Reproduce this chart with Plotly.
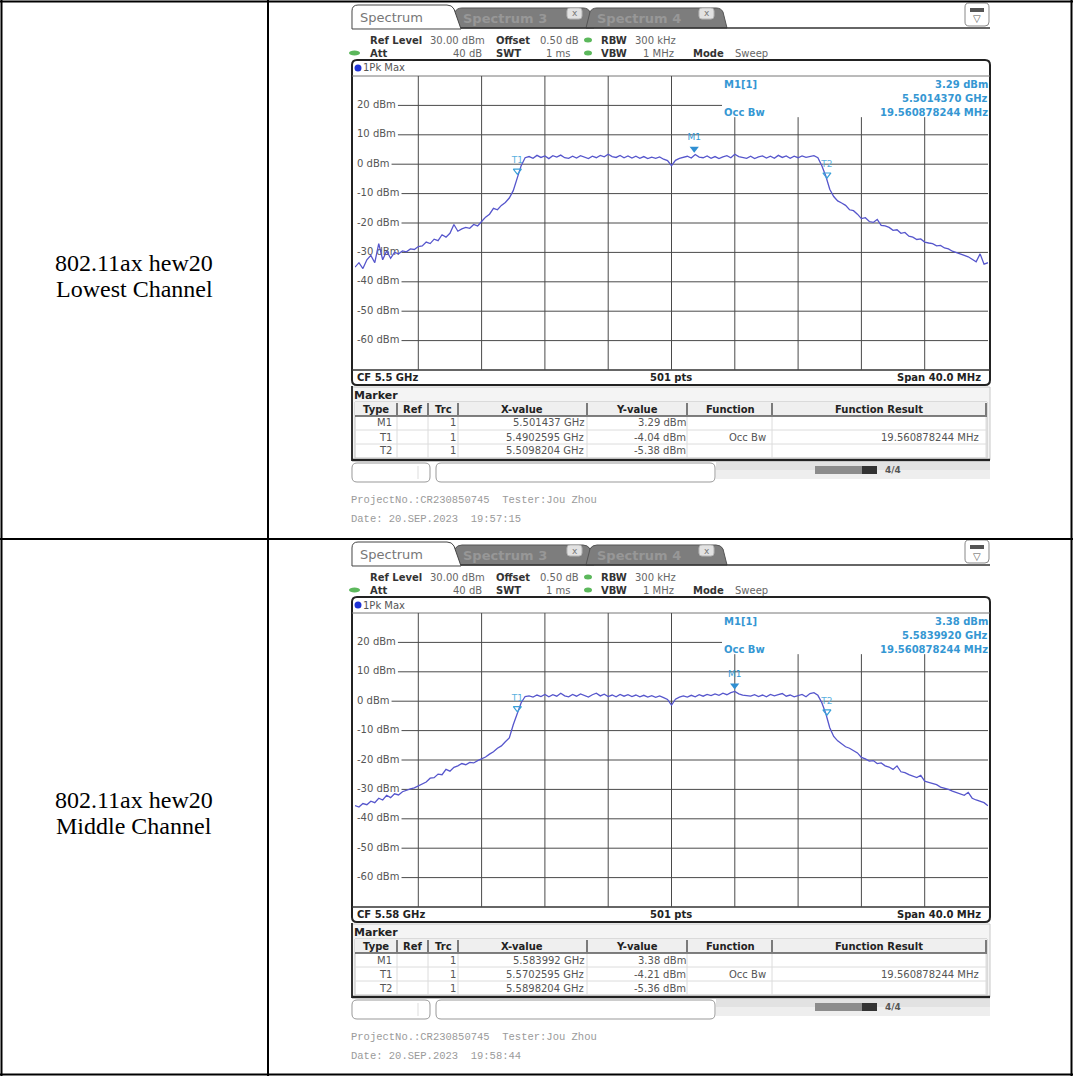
import plotly.graph_objects as go

W, H = 1073, 1076

# ---------------- data ----------------
span_ghz = 0.040
div_ghz = 0.004
step_ghz = 0.00025
centers_ghz = [5.50, 5.58]

low_trace_dbm = [
    -35.0, -33.5, -35.5, -32.5, -31.0, -33.5, -27.0, -32.5, -29.5, -32.0,
    -30.0, -30.5, -29.5, -29.8, -28.8, -29.0, -28.0, -27.8, -26.5, -27.0,
    -25.5, -26.0, -24.0, -24.8, -23.5, -20.5, -22.8, -22.0, -21.5, -21.8,
    -20.5, -21.0, -19.5, -18.0, -17.0, -15.0, -15.5, -14.0, -13.0, -11.5,
    -9.0, -4.5, -0.5, 2.2,
    2.6, 2.0, 3.0, 2.3, 2.8, 1.9, 2.9, 2.4, 3.1, 2.2,
    2.0, 2.7, 2.1, 2.9, 2.4, 1.9, 2.7, 2.2, 3.0, 2.5,
    3.4, 2.6, 2.3, 3.0, 2.2, 2.8, 2.1, 2.7, 2.0, 2.6,
    1.9, 2.4, 2.0, 2.5, 1.7, 1.2, -0.5, 1.3, 2.0, 2.4,
    2.7, 2.1, 3.3, 2.4, 2.2, 2.8, 2.0, 2.6, 1.9, 2.5,
    2.9, 2.2, 3.4, 2.6, 2.3, 2.0, 2.7, 1.9, 2.5, 2.8,
    2.1, 2.7, 2.0, 3.0, 2.3, 2.8, 2.0, 2.7, 2.2, 2.8,
    2.3, 2.6, 2.9, 2.2,
    -0.5, -4.0, -8.5, -11.0, -12.5, -13.2, -14.0, -15.5, -15.8, -17.0,
    -18.5, -18.2, -19.5, -19.8, -18.8, -20.8, -21.0, -21.5, -22.5, -22.3,
    -23.5, -23.2, -24.5, -24.8, -25.6, -25.4, -26.5, -26.8, -27.0, -27.8,
    -27.6, -28.5, -28.8, -29.6, -30.0, -30.4, -31.0, -31.5, -32.5, -33.2,
    -30.5, -34.0, -33.5,
]

mid_trace_dbm = [
    -35.5, -36.0, -34.8, -35.2, -34.0, -34.5, -33.0, -33.6, -32.0, -32.8,
    -31.5, -31.9, -30.8, -30.2, -29.8, -29.5, -28.8, -28.0, -27.5, -26.2,
    -26.0, -24.8, -25.0, -23.2, -23.8, -22.5, -22.0, -21.2, -21.6, -20.8,
    -21.0, -20.2, -19.6, -19.0, -18.0, -17.2, -16.0, -15.2, -13.8, -12.5,
    -8.0, -4.3, -0.5, 1.6,
    1.8, 1.4, 2.1, 1.6, 2.3, 1.5, 2.2, 1.7, 2.7, 1.8,
    1.5, 2.3, 1.7, 2.5, 1.9, 1.4, 2.2, 2.7, 1.8, 2.4,
    1.6, 2.1, 1.5, 2.3, 1.7, 2.2, 1.6, 2.1, 1.5, 2.0,
    1.4, 1.9, 1.3, 1.8, 1.2, 0.6, -1.3, 0.7, 1.4, 1.8,
    1.4, 2.0, 1.5, 2.2, 1.7, 2.3, 1.9, 2.5, 2.0, 2.7,
    2.2, 2.9, 3.3, 2.5, 2.1, 1.9, 1.7, 2.2, 1.6, 2.1,
    1.5, 2.3, 1.8, 2.2, 2.6, 1.7, 2.1, 1.5, 2.0, 2.3,
    1.5, 2.6, 2.9, 2.0,
    -0.5, -4.2, -9.0, -12.0, -13.5, -14.6, -15.5, -16.0, -16.8, -17.6,
    -19.1, -19.6, -20.4, -20.2, -21.2, -21.0, -22.0, -22.4, -23.2, -22.0,
    -24.0, -24.3, -25.0, -25.4, -26.0, -25.2, -27.2, -27.6, -28.0, -28.4,
    -29.2, -29.5, -30.0, -30.6, -31.0, -31.6, -32.0, -31.0, -33.0, -33.6,
    -34.0, -34.5, -35.6,
]

tick_values = [20, 10, 0, -10, -20, -30, -40, -50, -60]
tick_labels = ["20 dBm", "10 dBm", "0 dBm", "-10 dBm", "-20 dBm", "-30 dBm", "-40 dBm", "-50 dBm", "-60 dBm"]

row_titles = [["802.11ax hew20", "Lowest Channel"], ["802.11ax hew20", "Middle Channel"]]

marker_names = ["M1", "T1", "T2"]
marker_x = [[5.501437, 5.4902595, 5.5098204], [5.583992, 5.5702595, 5.5898204]]
marker_y = [[3.29, -4.04, -5.38], [3.38, -4.21, -5.36]]
marker_x_text = [["5.501437 GHz", "5.4902595 GHz", "5.5098204 GHz"],
                 ["5.583992 GHz", "5.5702595 GHz", "5.5898204 GHz"]]
m1_info = [["3.29 dBm", "5.5014370 GHz"], ["3.38 dBm", "5.5839920 GHz"]]
occ_bw_text = "19.560878244 MHz"
cf_labels = ["CF 5.5 GHz", "CF 5.58 GHz"]
dates = ["Date: 20.SEP.2023\u00a0\u00a019:57:15", "Date: 20.SEP.2023\u00a0\u00a019:58:44"]
project_line = "ProjectNo.:CR230850745\u00a0\u00a0Tester:Jou Zhou"

# ---------------- helpers ----------------
SANS = "DejaVu Sans"
MONO = "Liberation Mono"
SERIF = "Liberation Serif"
BLUE_INFO = "#3597d3"
TRACE = "#5656cc"

shapes = []
annots = []


def X(x):
    return x / W


def Y(y):
    return 1 - y / H


def pt(x, y):
    return f"{X(x):.5f},{Y(y):.5f}"


def line(x0, y0, x1, y1, color="#333", w=1):
    shapes.append(dict(type="line", xref="paper", yref="paper", x0=X(x0), y0=Y(y0), x1=X(x1), y1=Y(y1),
                       line=dict(color=color, width=w), layer="below"))


def rect(x0, y0, x1, y1, fill=None, lc=None, w=1):
    shapes.append(dict(type="rect", xref="paper", yref="paper", x0=X(x0), y0=Y(y0), x1=X(x1), y1=Y(y1),
                       fillcolor=fill or "rgba(0,0,0,0)", line=dict(color=lc or "rgba(0,0,0,0)", width=w if lc else 0),
                       layer="below"))


def ellipse(x0, y0, x1, y1, fill):
    shapes.append(dict(type="circle", xref="paper", yref="paper", x0=X(x0), y0=Y(y0), x1=X(x1), y1=Y(y1),
                       fillcolor=fill, line=dict(width=0), layer="below"))


def path(d, fill=None, lc="#444", w=1):
    shapes.append(dict(type="path", xref="paper", yref="paper", path=d,
                       fillcolor=fill or "rgba(0,0,0,0)", line=dict(color=lc, width=w), layer="below"))


def rrect(x0, y0, x1, y1, r, fill=None, lc="#444", w=1):
    d = (f"M{pt(x0 + r, y0)} L{pt(x1 - r, y0)} Q{pt(x1, y0)} {pt(x1, y0 + r)} "
         f"L{pt(x1, y1 - r)} Q{pt(x1, y1)} {pt(x1 - r, y1)} L{pt(x0 + r, y1)} "
         f"Q{pt(x0, y1)} {pt(x0, y1 - r)} L{pt(x0, y0 + r)} Q{pt(x0, y0)} {pt(x0 + r, y0)} Z")
    path(d, fill, lc, w)


def txt(x, y, s, size=10, color="#333", anchor="left", family=SANS, bold=False):
    annots.append(dict(x=X(x), y=Y(y), xref="paper", yref="paper", text=f"<b>{s}</b>" if bold else s,
                       showarrow=False, xanchor=anchor, yanchor="middle", borderpad=0, borderwidth=0,
                       font=dict(size=size, color=color, family=family)))


CW = {"-": 3.6, " ": 3.2, "d": 6.35, "B": 6.9, "m": 9.75}


def label_width(s):
    return sum(CW.get(c, 6.36) for c in s)


# plot area geometry (pixels, first screenshot)
PX0, PX1, PY0, PY1 = 355, 988, 76, 370
DYS = [0, 537]

fig = go.Figure()
layout_axes = {}

for k in range(2):
    dy = DYS[k]
    c = centers_ghz[k]
    f0 = c - span_ghz / 2
    xa = "x" if k == 0 else "x2"
    ya = "y" if k == 0 else "y2"
    xname = "xaxis" if k == 0 else "xaxis2"
    yname = "yaxis" if k == 0 else "yaxis2"
    layout_axes[xname] = dict(domain=[X(PX0), X(PX1)], range=[f0, f0 + span_ghz], showgrid=False, zeroline=False,
                              showticklabels=False, ticks="", showline=False, fixedrange=True, anchor=ya)
    layout_axes[yname] = dict(domain=[Y(PY1 + dy), Y(PY0 + dy)], range=[-70, 30], showgrid=False, zeroline=False,
                              showticklabels=False, ticks="", showline=False, fixedrange=True, anchor=xa)

    def f_of_px(p):
        return f0 + (p - PX0) / (PX1 - PX0) * span_ghz

    cut_f = f_of_px(722)
    # ---- graticule (data coordinates) ----
    for j in range(1, 10):
        fx = f0 + j * div_ghz
        top = 16 if fx > cut_f else 30
        shapes.append(dict(type="line", xref=xa, yref=ya, x0=fx, x1=fx, y0=-70, y1=top,
                           line=dict(color="#4a4a4a", width=1), layer="below"))
    for tv, tl in zip(tick_values, tick_labels):
        xs = f_of_px(357 + label_width(tl) + 2)
        xe = cut_f if tv == 20 else f0 + span_ghz
        shapes.append(dict(type="line", xref=xa, yref=ya, x0=xs, x1=xe, y0=tv, y1=tv,
                           line=dict(color="#4a4a4a", width=1), layer="below"))

    # tick labels (drawn below the spectrum trace)
    fig.add_trace(go.Scatter(x=[f_of_px(357)] * len(tick_values), y=tick_values, text=tick_labels,
                             mode="text", textposition="middle right", xaxis=xa, yaxis=ya,
                             textfont=dict(family=SANS, size=10, color="#555"), hoverinfo="skip",
                             showlegend=False, cliponaxis=False))

    # spectrum trace
    trace = low_trace_dbm if k == 0 else mid_trace_dbm
    freqs = [f0 + i * step_ghz for i in range(len(trace))]
    fig.add_trace(go.Scatter(x=freqs, y=trace, mode="lines", line=dict(color=TRACE, width=1.3),
                             xaxis=xa, yaxis=ya, showlegend=False, hoverinfo="skip", cliponaxis=True))

    # markers
    mx, my = marker_x[k], marker_y[k]
    fig.add_trace(go.Scatter(x=[mx[0]], y=[my[0] + 2.0], mode="markers+text", text=["M1"],
                             textposition="top center",
                             marker=dict(symbol="triangle-down", size=8, color="#2f8fd2"),
                             textfont=dict(family=SANS, size=9, color=BLUE_INFO),
                             xaxis=xa, yaxis=ya, showlegend=False, hoverinfo="skip", cliponaxis=False))
    fig.add_trace(go.Scatter(x=mx[1:], y=[v + 1.8 for v in my[1:]], mode="markers+text", text=marker_names[1:],
                             textposition="top center",
                             marker=dict(symbol="triangle-down-open", size=7, color="#3aa0d8", line=dict(width=1.2)),
                             textfont=dict(family=SANS, size=9, color="#5ab0e0"),
                             xaxis=xa, yaxis=ya, showlegend=False, hoverinfo="skip", cliponaxis=False))

    # ---- tabs ----
    path(f"M{pt(450, 28 + dy)} L{pt(455, 12 + dy)} Q{pt(457, 8 + dy)} {pt(462, 8 + dy)} L{pt(583, 8 + dy)} "
         f"Q{pt(588, 8 + dy)} {pt(590, 12 + dy)} L{pt(594, 28 + dy)} Z", fill="#7d7d7d", lc="#555", w=1)
    path(f"M{pt(586, 28 + dy)} L{pt(590, 12 + dy)} Q{pt(592, 8 + dy)} {pt(597, 8 + dy)} L{pt(716, 8 + dy)} "
         f"Q{pt(721, 8 + dy)} {pt(723, 12 + dy)} L{pt(727, 28 + dy)} Z", fill="#7d7d7d", lc="#555", w=1)
    path(f"M{pt(352, 29 + dy)} L{pt(352, 11 + dy)} Q{pt(352, 5 + dy)} {pt(358, 5 + dy)} L{pt(447, 5 + dy)} "
         f"Q{pt(452, 5 + dy)} {pt(454, 9 + dy)} L{pt(461, 29 + dy)} Z", fill="#ffffff", lc="#444", w=1)
    line(461, 28 + dy, 990, 28 + dy, "#333", 1.5)
    txt(360, 17 + dy, "Spectrum", 13, "#777")
    txt(463, 18 + dy, "Spectrum 3", 13, "#979797", bold=True)
    txt(597, 18 + dy, "Spectrum 4", 13, "#979797", bold=True)
    for bx in (567, 699):
        rrect(bx, 8 + dy, bx + 15, 19 + dy, 3, fill="#e2e2e2", lc="#b5b5b5", w=1)
        txt(bx + 7.5, 13.5 + dy, "x", 9, "#777", anchor="center")
    rrect(965, 3 + dy, 989, 26 + dy, 4, fill="#ffffff", lc="#888", w=1)
    rect(970, 8 + dy, 984, 12 + dy, fill="#555")
    txt(977, 19 + dy, "\u25bd", 10, "#555", anchor="center")

    # ---- setting lines ----
    y1, y2 = 40 + dy, 53 + dy
    txt(370, y1, "Ref Level", 10, "#333", bold=True)
    txt(430, y1, "30.00 dBm", 10, "#666")
    txt(496, y1, "Offset", 10, "#333", bold=True)
    txt(540, y1, "0.50 dB", 10, "#666")
    ellipse(584, y1 - 2.5, 592, y1 + 2.5, "#5cb85c")
    txt(601, y1, "RBW", 10, "#333", bold=True)
    txt(635, y1, "300 kHz", 10, "#666")
    ellipse(349, y2 - 2.5, 360, y2 + 2.5, "#5cb85c")
    txt(370, y2, "Att", 10, "#333", bold=True)
    txt(482, y2, "40 dB", 10, "#666", anchor="right")
    txt(496, y2, "SWT", 10, "#333", bold=True)
    txt(571, y2, "1 ms", 10, "#666", anchor="right")
    ellipse(584, y2 - 2.5, 592, y2 + 2.5, "#5cb85c")
    txt(601, y2, "VBW", 10, "#333", bold=True)
    txt(674, y2, "1 MHz", 10, "#666", anchor="right")
    txt(693, y2, "Mode", 10, "#333", bold=True)
    txt(735, y2, "Sweep", 10, "#666")

    # ---- main frame ----
    rrect(352, 60 + dy, 990, 385 + dy, 5, fill=None, lc="#222", w=2)
    line(352, 76 + dy, 990, 76 + dy, "#777", 1)
    line(352, 370 + dy, 990, 370 + dy, "#333", 1.5)
    ellipse(354.5, 64.5 + dy, 361.5, 71.5 + dy, "#1f33d6")
    txt(363, 68 + dy, "1Pk Max", 10, "#555")
    # marker info (top right)
    txt(724, 84 + dy, "M1[1]", 10, BLUE_INFO, bold=True)
    txt(988, 84 + dy, m1_info[k][0], 10, BLUE_INFO, anchor="right", bold=True)
    txt(988, 98 + dy, m1_info[k][1], 10, BLUE_INFO, anchor="right", bold=True)
    txt(724, 112 + dy, "Occ Bw", 10, BLUE_INFO, bold=True)
    txt(988, 112 + dy, occ_bw_text, 10, BLUE_INFO, anchor="right", bold=True)
    # CF row
    txt(357, 377.5 + dy, cf_labels[k], 10, "#222", bold=True)
    txt(671, 377.5 + dy, "501 pts", 10, "#222", anchor="center", bold=True)
    txt(981, 377.5 + dy, "Span 40.0 MHz", 10, "#222", anchor="right", bold=True)

    # ---- marker table ----
    rect(352, 387 + dy, 990, 460 + dy, fill="#f4f4f4", lc="#c8c8c8", w=1)
    line(352, 386 + dy, 352, 461 + dy, "#333", 2)
    line(352, 460 + dy, 990, 460 + dy, "#222", 2.5)
    txt(354, 395 + dy, "Marker", 11, "#222", bold=True)
    rect(355, 402 + dy, 987, 458 + dy, fill="#ffffff", lc="#c0c0c0", w=1)
    rect(355, 402 + dy, 987, 416 + dy, fill="#efefef")
    line(355, 416 + dy, 987, 416 + dy, "#555", 1.5)
    for r_y in (430, 444):
        line(355, r_y + dy, 987, r_y + dy, "#dcdcdc", 1)
    col_sep = [397, 428, 458, 587, 687, 772, 986]
    for cx in col_sep:
        line(cx, 403 + dy, cx, 415 + dy, "#555", 1.5)
        line(cx, 417 + dy, cx, 458 + dy, "#dcdcdc", 1)
    heads = [("Type", 376), ("Ref", 412), ("Trc", 443), ("X-value", 522), ("Y-value", 637),
             ("Function", 730), ("Function Result", 879)]
    for h, hx in heads:
        txt(hx, 409 + dy, h, 10, "#222", anchor="center", bold=True)
    for r in range(3):
        ry = 423 + 14 * r + dy
        txt(392, ry, marker_names[r], 10, "#555", anchor="right")
        txt(456, ry, "1", 10, "#555", anchor="right")
        txt(584, ry, marker_x_text[k][r], 10, "#555", anchor="right")
        txt(686, ry, f"{marker_y[k][r]:.2f} dBm", 10, "#555", anchor="right")
    txt(766, 437 + dy, "Occ Bw", 10, "#555", anchor="right")
    txt(979, 437 + dy, occ_bw_text, 10, "#555", anchor="right")

    # ---- status bar ----
    rrect(352, 463 + dy, 430, 482 + dy, 5, fill="#ffffff", lc="#999", w=1)
    line(418, 466 + dy, 418, 479 + dy, "#dddddd", 1)
    rrect(436, 463 + dy, 715, 482 + dy, 5, fill="#ffffff", lc="#999", w=1)
    rect(716, 462 + dy, 990, 470 + dy, fill="#e2e2e2")
    rect(716, 470 + dy, 990, 479 + dy, fill="#eeeeee")
    rect(815, 466 + dy, 862, 474 + dy, fill="#8c8c8c")
    rect(862, 466 + dy, 877, 474 + dy, fill="#333333")
    txt(885, 470 + dy, "4/4", 9, "#555", bold=True)

    # ---- footer ----
    txt(351, 500 + dy, project_line, 10.5, "#9a9a9a", family=MONO)
    txt(351, 518.5 + dy, dates[k], 10.5, "#9a9a9a", family=MONO)

    # ---- left column titles ----
    txt(134, 263 + dy, row_titles[k][0], 24, "#000", anchor="center", family=SERIF)
    txt(134, 289 + dy, row_titles[k][1], 24, "#000", anchor="center", family=SERIF)

# ---- outer table grid ----
line(0, 1.5, W, 1.5, "#000", 2)
line(1.5, 0, 1.5, H, "#000", 2)
line(W - 1.5, 0, W - 1.5, H, "#000", 2)
line(0, H - 1.5, W, H - 1.5, "#000", 2)
line(268, 0, 268, H, "#000", 2)
line(0, 539, W, 539, "#000", 2)

fig.update_layout(
    width=W, height=H, margin=dict(l=0, r=0, t=0, b=0),
    paper_bgcolor="#ffffff", plot_bgcolor="rgba(0,0,0,0)",
    shapes=shapes, annotations=annots, showlegend=False,
    **layout_axes,
)

fig.write_html("out.html", include_plotlyjs=True, config={"displayModeBar": False, "staticPlot": True},
               post_script="document.body.style.margin='0';document.body.style.overflow='hidden';")
